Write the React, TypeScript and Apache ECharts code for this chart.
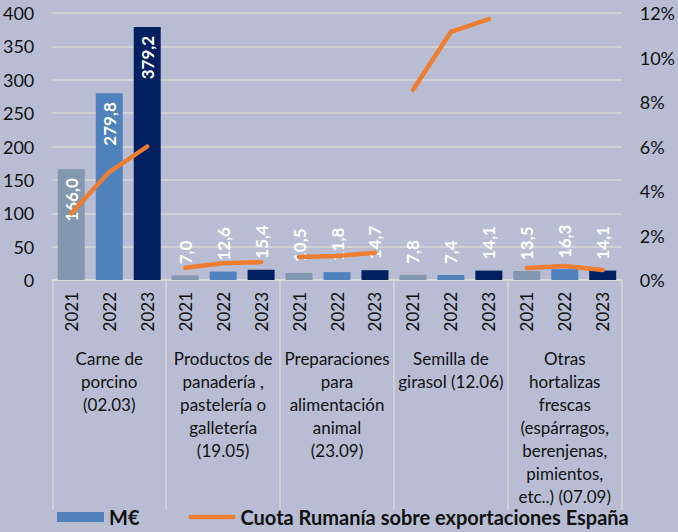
import React, { useEffect, useRef } from "react";
import * as echarts from "echarts";

const years = ["2021", "2022", "2023"];
const groups = [
  "Carne de\nporcino\n(02.03)",
  "Productos de\npanadería ,\npastelería o\ngalletería\n(19.05)",
  "Preparaciones\npara\nalimentación\nanimal\n(23.09)",
  "Semilla de\ngirasol (12.06)",
  "Otras\nhortalizas\nfrescas\n(espárragos,\nberenjenas,\npimientos,\netc..) (07.09)",
];
const valuesMEUR = [
  166.0, 279.8, 379.2,
  7.0, 12.6, 15.4,
  10.5, 11.8, 14.7,
  7.8, 7.4, 14.1,
  13.5, 16.3, 14.1,
];
const shareRumania = [
  [0.030, 0.0485, 0.060],
  [0.0055, 0.0075, 0.008],
  [0.0103, 0.0108, 0.0122],
  [0.0854, 0.1115, 0.1173],
  [0.0054, 0.0063, 0.0045],
];
const yearColors = ["#8497b0", "#4f81bd", "#002060"];

const LINE_NAME = "Cuota Rumanía sobre exportaciones España";
const FONT = "Lato";

export default function App() {
  const ref = useRef<HTMLDivElement>(null);
  useEffect(() => {
    if (!ref.current) return;
    const chart = echarts.init(ref.current, undefined, { renderer: "svg" });
    const yearCats: string[] = [];
    groups.forEach(() => years.forEach((y) => yearCats.push(y)));

    const barData = valuesMEUR.map((v, i) => ({
      value: v,
      itemStyle: { color: yearColors[i % 3] },
      label:
        v > 100
          ? { position: "insideTop", align: "right", verticalAlign: "middle", distance: 9 }
          : { position: "top", align: "left", verticalAlign: "middle", distance: 11 },
    }));

    const lineSeries = shareRumania.map((g, gi) => {
      const data: (number | null)[] = new Array(yearCats.length).fill(null);
      g.forEach((v, k) => (data[gi * 3 + k] = v));
      return {
        name: LINE_NAME,
        type: "line",
        yAxisIndex: 1,
        xAxisIndex: 0,
        data,
        symbol: "none",
        showSymbol: false,
        connectNulls: false,
        lineStyle: { color: "#ed7d31", width: 4.5, cap: "round", join: "round" },
        itemStyle: { color: "#ed7d31" },
        z: 5,
      };
    });

    chart.setOption({
      animation: false,
      backgroundColor: "#b8bdd4",
      textStyle: { fontFamily: FONT },
      grid: { left: 52, right: 51, top: 13, bottom: 252, containLabel: false },
      legend: {
        left: 52,
        top: 502,
        itemWidth: 47,
        itemHeight: 10,
        itemGap: 49,
        textStyle: { fontFamily: FONT, fontWeight: "bold", fontSize: 20, color: "#111" },
        data: [
          { name: "M€", icon: "rect", itemStyle: { color: "#4f81bd" } },
          {
            name: LINE_NAME,
            icon: "path://M0,0L0.01,0L0.01,0.01L0,0.01Z M0,9.99L0.01,9.99L0.01,10L0,10Z M2.5,2.5L47.5,2.5A2.5,2.5 0 0 1 47.5,7.5L2.5,7.5A2.5,2.5 0 0 1 2.5,2.5Z",
            itemStyle: { color: "#ed7d31", borderWidth: 0 },
          },
        ],
      },
      xAxis: [
        {
          type: "category",
          data: yearCats,
          position: "bottom",
          axisLine: { show: true, lineStyle: { color: "#d9d9d9", width: 1.5 } },
          axisTick: { show: false },
          axisLabel: {
            rotate: 90,
            margin: 12,
            fontSize: 17,
            color: "#111",
            fontFamily: FONT,
            interval: 0,
          },
        },
        {
          type: "category",
          data: groups,
          position: "bottom",
          gridIndex: 0,
          axisLine: { show: false },
          axisTick: {
            show: true,
            length: 230,
            inside: false,
            lineStyle: { color: "#d9d9d9", width: 1.5 },
          },
          axisLabel: {
            margin: 67,
            fontSize: 17,
            lineHeight: 23,
            color: "#111",
            fontFamily: FONT,
            interval: 0,
            verticalAlign: "top",
          },
        },
      ],
      yAxis: [
        {
          type: "value",
          min: 0,
          max: 400,
          interval: 50,
          axisLine: { show: false },
          axisTick: { show: false },
          axisLabel: { margin: 18, fontSize: 18, color: "#111", fontFamily: FONT },
          splitLine: { lineStyle: { color: "#d9d9d9", width: 1.5 } },
        },
        {
          type: "value",
          min: 0,
          max: 0.12,
          interval: 0.02,
          position: "right",
          axisLine: { show: false },
          axisTick: { show: false },
          splitLine: { show: false },
          axisLabel: {
            margin: 18,
            fontSize: 18,
            color: "#111",
            fontFamily: FONT,
            formatter: (v: number) => Math.round(v * 100) + "%",
          },
        },
      ],
      series: [
        {
          name: "M€",
          type: "bar",
          xAxisIndex: 0,
          yAxisIndex: 0,
          data: barData,
          barWidth: 27,
          itemStyle: { color: "#4f81bd" },
          label: {
            show: true,
            rotate: 90,
            color: "#ffffff",
            fontWeight: "bold",
            fontSize: 17,
            fontFamily: FONT,
            formatter: (p: any) => Number(p.value).toFixed(1).replace(".", ","),
          },
          z: 2,
        },
        ...lineSeries,
      ],
    });
    return () => chart.dispose();
  }, []);
  return <div ref={ref} style={{ width: 678, height: 532, position: "absolute", left: 0, top: 0 }} />;
}
